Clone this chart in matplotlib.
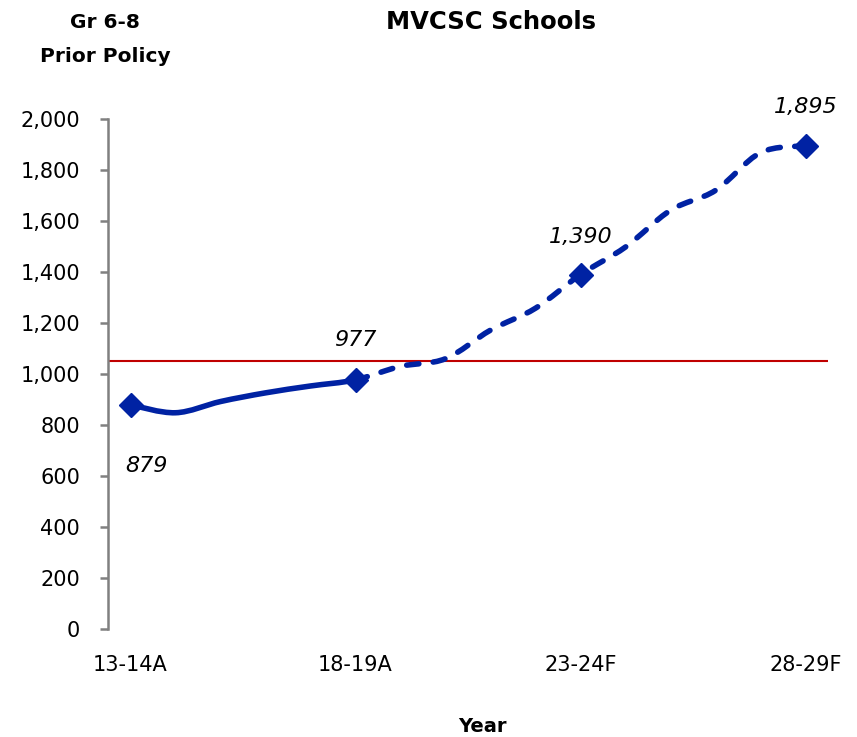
import matplotlib
matplotlib.use("Agg")
import matplotlib.pyplot as plt
from matplotlib.path import Path
from matplotlib.patches import PathPatch
from matplotlib.ticker import FuncFormatter, FixedLocator
import numpy as np

plt.rcParams['font.family'] = ['DejaVu Sans']

years = ['13-14A', '14-15A', '15-16A', '16-17A', '17-18A', '18-19A',
         '19-20F', '20-21F', '21-22F', '22-23F', '23-24F', '24-25F',
         '25-26F', '26-27F', '27-28F', '28-29F']
values = [879, 848, 892, 926, 953, 977, 1030, 1060, 1172, 1258,
          1390, 1498, 1642, 1720, 1868, 1895]
actual_last = 5           # index of last actual year
marked = [0, 5, 10, 15]   # points with markers and labels
tick_idx = [0, 5, 10, 15]
threshold = 1050

title = 'MVCSC Schools'
corner_label = 'Gr 6-8\nPrior Policy'
xlabel = 'Year'

W, H = 857, 737
fig = plt.figure(figsize=(W / 100, H / 100), dpi=100)
ax = fig.add_axes([108 / W, 1 - 629 / H, 720 / W, 510 / H])

color = '#0022A3'
x = np.arange(len(values), dtype=float)
y = np.array(values, dtype=float)


def smooth_path(i0, i1):
    verts = [(x[i0], y[i0])]
    codes = [Path.MOVETO]
    n = len(x)
    for i in range(i0, i1):
        p0 = np.array([x[max(i - 1, 0)], y[max(i - 1, 0)]])
        p1 = np.array([x[i], y[i]])
        p2 = np.array([x[i + 1], y[i + 1]])
        p3 = np.array([x[min(i + 2, n - 1)], y[min(i + 2, n - 1)]])
        c1 = p1 + (p2 - p0) / 6.0
        c2 = p2 - (p3 - p1) / 6.0
        verts += [tuple(c1), tuple(c2), tuple(p2)]
        codes += [Path.CURVE4] * 3
    return Path(verts, codes)


solid = PathPatch(smooth_path(0, actual_last), fill=False, edgecolor=color,
                  linewidth=4.0, capstyle='round', joinstyle='round', zorder=3)
dashed = PathPatch(smooth_path(actual_last, len(values) - 1), fill=False,
                   edgecolor=color, linewidth=4.0, linestyle=(0, (2.2, 2.6)),
                   capstyle='round', joinstyle='round', zorder=3)
ax.add_patch(solid)
ax.add_patch(dashed)

ax.plot([x[i] for i in marked], [y[i] for i in marked], linestyle='none',
        marker='D', markersize=12, color=color, zorder=4)

ax.axhline(threshold, color='#C00000', linewidth=1.5, zorder=2)

offsets = {0: (16, -61), 5: (0, 40), 10: (0, 38), 15: (0, 39)}
for i in marked:
    ax.annotate(f'{values[i]:,}', (x[i], y[i]), xytext=offsets[i],
                textcoords='offset pixels', ha='center', va='center',
                fontsize=16, fontstyle='italic', color='black')

ax.set_xlim(-0.5, len(values) - 0.5)
ax.set_ylim(0, 2000)
ax.yaxis.set_major_locator(FixedLocator(np.arange(0, 2001, 200)))
ax.yaxis.set_major_formatter(FuncFormatter(lambda v, p: f'{int(v):,}'))
ax.set_xticks(tick_idx)
ax.set_xticklabels([years[i] for i in tick_idx])

for s in ['top', 'right', 'bottom']:
    ax.spines[s].set_visible(False)
ax.spines['left'].set_color('#808080')
ax.spines['left'].set_linewidth(1.8)
ax.tick_params(axis='y', direction='out', length=6, width=1.8, color='#808080',
               labelsize=15, pad=14, labelcolor='black')
ax.tick_params(axis='x', length=0, labelsize=15, pad=19, labelcolor='black')

fig.text(491 / W, 1 - 22 / H, title, ha='center', va='center',
         fontsize=17.5, fontweight='bold')
fig.text(105 / W, 1 - 22 / H, corner_label.split('\n')[0], ha='center',
         va='center', fontsize=14.5, fontweight='bold')
fig.text(105 / W, 1 - 57 / H, corner_label.split('\n')[1], ha='center',
         va='center', fontsize=14.5, fontweight='bold')
fig.text(482 / W, 1 - 726 / H, xlabel, ha='center', va='center',
         fontsize=14, fontweight='bold')

fig.savefig('out.png', dpi=100)
